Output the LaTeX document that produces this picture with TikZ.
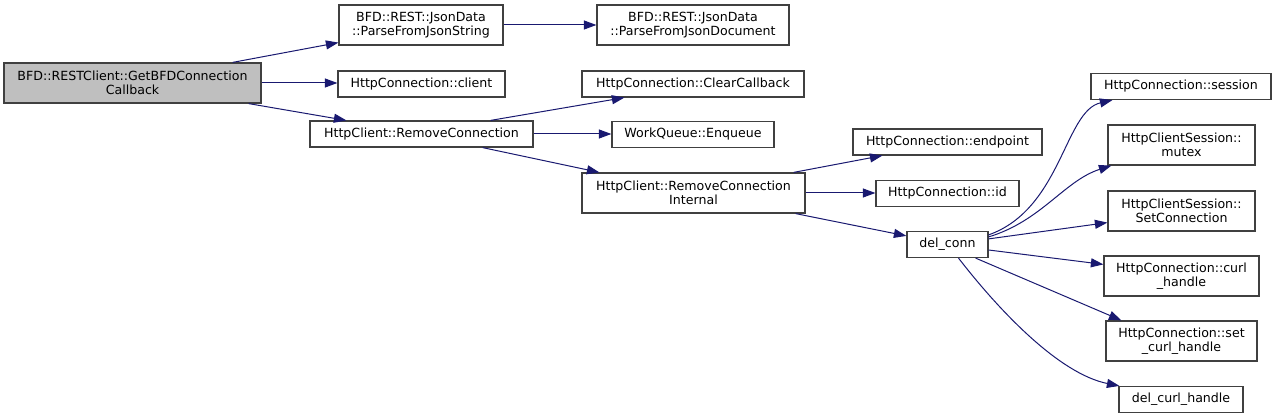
\documentclass[tikz,border=0pt]{standalone}
\usepackage{fontspec}
\setmainfont{DejaVu Sans}
\usetikzlibrary{arrows.meta}
\definecolor{callblue}{HTML}{191970}
\definecolor{boxline}{HTML}{404040}
\definecolor{rootgrey}{HTML}{BFBFBF}

\begin{document}
\begin{tikzpicture}[x=1pt, y=-1pt,
  fn/.style={draw=boxline, line width=1.2pt, fill=white, inner sep=0pt, align=center, minimum height=26pt, font=\fontsize{12.6}{14.3}\selectfont},
  fn2/.style={fn, minimum height=40pt},
  call/.style={callblue, line width=1pt, -{Triangle[length=12.5pt,width=9pt]}}
]
\useasboundingbox (0,0) rectangle (1277,419);
% root
\node[fn2, fill=rootgrey, minimum width=257pt] (root) at (132.5,83) {BFD::RESTClient::GetBFDConnection\\Callback};
% first level
\node[fn2, minimum width=164pt] (jstr) at (421,25) {BFD::REST::JsonData\\::ParseFromJsonString};
\node[fn, minimum width=167pt] (client) at (421.5,84) {HttpConnection::client};
\node[fn, minimum width=223pt] (rmconn) at (421.5,134) {HttpClient::RemoveConnection};
% second level
\node[fn2, minimum width=192pt] (jdoc) at (693,25) {BFD::REST::JsonData\\::ParseFromJsonDocument};
\node[fn, minimum width=222pt] (clearcb) at (693,84) {HttpConnection::ClearCallback};
\node[fn, minimum width=162pt] (enqueue) at (693,134.5) {WorkQueue::Enqueue};
\node[fn2, minimum width=223pt] (rcint) at (693.5,193) {HttpClient::RemoveConnection\\Internal};
% third level
\node[fn, minimum width=189pt] (endpoint) at (947.5,142) {HttpConnection::endpoint};
\node[fn, minimum width=143pt] (connid) at (947.5,193.5) {HttpConnection::id};
\node[fn, minimum width=81pt] (delconn) at (947.5,244.5) {del\_conn};
% fourth level
\node[fn, minimum width=180pt] (session) at (1181,86.5) {HttpConnection::session};
\node[fn2, minimum width=147pt] (mutex) at (1181.5,145) {HttpClientSession::\\mutex};
\node[fn2, minimum width=147pt] (setconn) at (1181.5,211) {HttpClientSession::\\SetConnection};
\node[fn2, minimum width=155pt] (curl) at (1181.5,276) {HttpConnection::curl\\\_handle};
\node[fn2, minimum width=151pt] (setcurl) at (1181.5,341) {HttpConnection::set\\\_curl\_handle};
\node[fn, minimum width=124pt] (delcurl) at (1181,399.5) {del\_curl\_handle};
% calls
\draw[call] ([xshift=-29pt]root.north east) -- ([yshift=3pt]jstr.south west);
\draw[call] (root.east) -- (root.east -| client.west);
\draw[call] ([xshift=-13pt]root.south east) -- ([xshift=37pt]rmconn.north west);
\draw[call] (jstr.east) -- (jstr.east -| jdoc.west);
\draw[call] ([xshift=-43pt]rmconn.north east) -- ([xshift=43pt]clearcb.south west);
\draw[call] (rmconn.east) -- (rmconn.east -| enqueue.west);
\draw[call] ([xshift=-51pt]rmconn.south east) -- ([xshift=18pt]rcint.north west);
\draw[call] ([xshift=-12pt]rcint.north east) -- ([xshift=30pt]endpoint.south west);
\draw[call] (rcint.east) -- (rcint.east -| connid.west);
\draw[call] ([xshift=-10pt]rcint.south east) -- ([yshift=-5pt]delconn.north west);
\draw[call] ([yshift=-4pt]delconn.north east) .. controls +(73,-26) and +(-48,11) .. ([xshift=22pt]session.south west);
\draw[call] ([yshift=-6pt]delconn.north east) .. controls +(53,-16) and +(-47,15) .. ([xshift=4pt]mutex.south west);
\draw[call] ([yshift=-8pt]delconn.north east) -- ([yshift=9pt]setconn.south west);
\draw[call] ([yshift=-5.5pt]delconn.east) -- ([yshift=-9pt]curl.north west);
\draw[call] ([xshift=-13pt]delconn.south east) -- ([xshift=16pt]setcurl.north west);
\draw[call] ([xshift=11pt]delconn.south) .. controls +(41,53) and +(-60,-12) .. ([xshift=1pt]delcurl.north west);
\end{tikzpicture}
\end{document}
